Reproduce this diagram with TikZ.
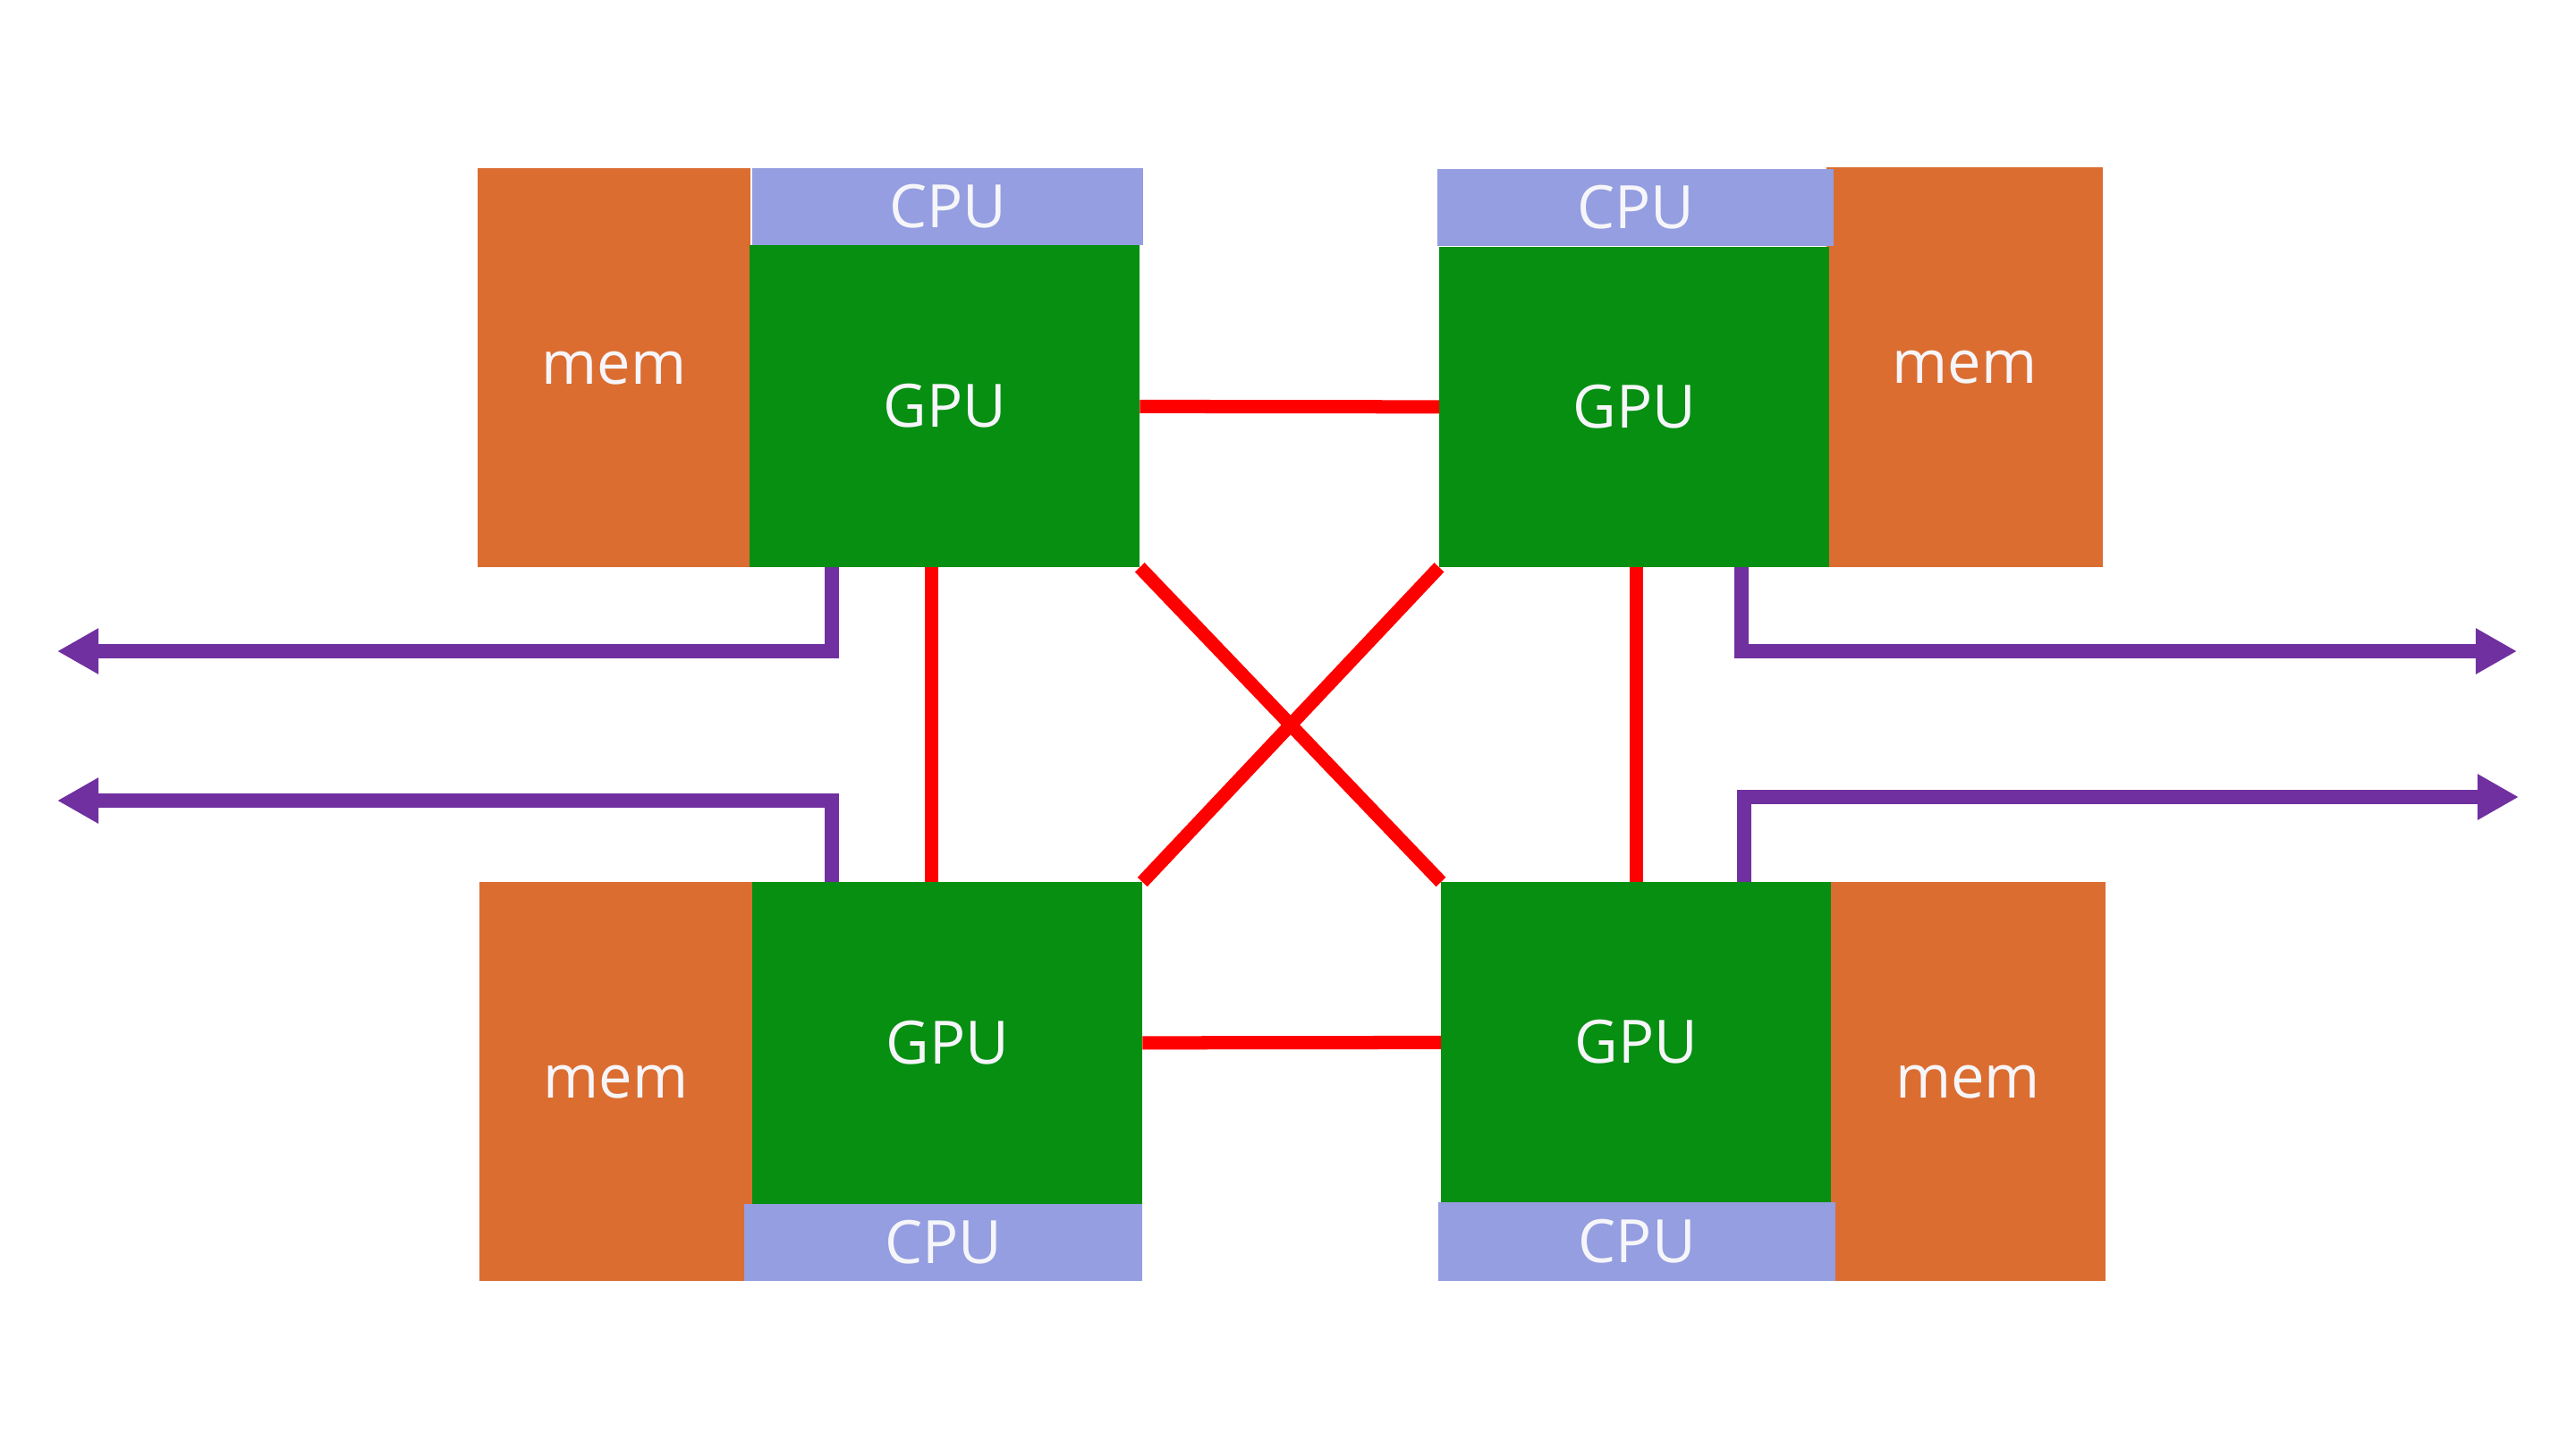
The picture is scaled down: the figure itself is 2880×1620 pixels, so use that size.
\documentclass[tikz,border=0pt]{standalone}
\usepackage{fontspec}
\setmainfont{Open Sans}
\usetikzlibrary{arrows.meta}
\definecolor{memorange}{HTML}{DB6D31}
\definecolor{gpugreen}{HTML}{068F11}
\definecolor{cpublue}{HTML}{949EE0}
\definecolor{extpurple}{HTML}{7030A0}
\definecolor{labelwhite}{HTML}{F6F6FA}
\begin{document}
\begin{tikzpicture}[x=0.01cm,y=-0.01cm,
	box/.style={anchor=north west,inner sep=0pt,outer sep=0pt,text=labelwhite,font=\fontsize{19}{23}\selectfont},
	mem/.style={box,fill=memorange,minimum width=3.05cm,minimum height=4.46cm},
	gpu/.style={box,fill=gpugreen,minimum width=4.36cm,minimum height=3.6cm},
	cpu/.style={box,fill=cpublue,minimum width=4.4cm,minimum height=0.86cm},
	nvlink/.style={red,line width=0.15cm},
	extlink/.style={extpurple,line width=0.16cm,-{Triangle[length=0.46cm,width=0.48cm]}}]
	\useasboundingbox (0,0) rectangle (2880,1620);

	\node[mem] (memTL) at (534,188) {mem};
	\node[gpu] (gpuTL) at (838,274) {GPU};
	\node[cpu,minimum width=4.37cm] (cpuTL) at (841,188) {CPU};

	\node[mem,minimum width=3.09cm,minimum height=4.47cm] (memTR) at (2042,187) {mem};
	\node[gpu,minimum height=3.58cm] (gpuTR) at (1609,276) {GPU};
	\node[cpu,minimum width=4.43cm] (cpuTR) at (1607,189) {CPU};

	\node[mem] (memBL) at (536,986) {mem};
	\node[gpu] (gpuBL) at (841,986) {GPU};
	\node[cpu,minimum width=4.45cm] (cpuBL) at (832,1346) {CPU};

	\node[mem,minimum width=3.08cm] (memBR) at (2046,986) {mem};
	\node[gpu,minimum height=3.58cm] (gpuBR) at (1611,986) {GPU};
	\node[cpu,minimum width=4.44cm,minimum height=0.88cm] (cpuBR) at (1608,1344) {CPU};

	\draw[nvlink] (gpuTL) -- (gpuTR);
	\draw[nvlink] (gpuBL) -- (gpuBR);
	\draw[nvlink] ([xshift=2.03cm]gpuTL.south west) -- ([xshift=2.03cm]gpuTL.south west |- gpuBL.north);
	\draw[nvlink] ([xshift=2.20cm]gpuTR.south west) -- ([xshift=2.20cm]gpuTR.south west |- gpuBR.north);
	\draw[nvlink] (gpuTL.south east) -- (gpuBR.north west);
	\draw[nvlink] (gpuBL.north east) -- (gpuTR.south west);

	\coordinate (exTL) at (64,728);
	\coordinate (exBL) at (64,895);
	\coordinate (exTR) at (2814,728);
	\coordinate (exBR) at (2816,891);
	\draw[extlink] ([xshift=0.92cm]gpuTL.south west) |- (exTL);
	\draw[extlink] ([xshift=0.89cm]gpuBL.north west) |- (exBL);
	\draw[extlink] ([xshift=3.38cm]gpuTR.south west) |- (exTR);
	\draw[extlink] ([xshift=3.39cm]gpuBR.north west) |- (exBR);
\end{tikzpicture}
\end{document}
